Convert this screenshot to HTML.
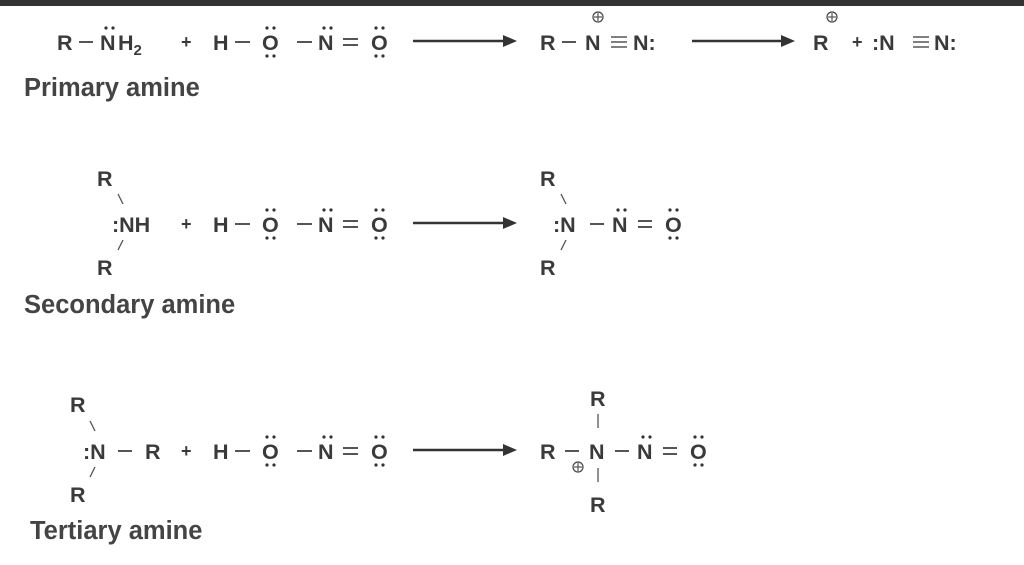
<!DOCTYPE html>
<html><head><meta charset="utf-8"><style>
html,body{margin:0;padding:0;background:#fff;}
svg{display:block;}
text{font-family:"Liberation Sans",Arial,sans-serif;fill:#3a3a3a;font-weight:bold;}
.f{font-size:21.5px;}
.l{font-size:25.5px;fill:#444;}
line{stroke:#555;stroke-width:2;}
circle.d{fill:#333;}
</style></head><body>
<svg width="1024" height="565" viewBox="0 0 1024 565" xmlns="http://www.w3.org/2000/svg">
<defs>
<g id="hono">
  <text class="f" x="213" y="0">H</text>
  <line x1="235" y1="-8" x2="250" y2="-8"/>
  <text class="f" x="262" y="0">O</text>
  <circle class="d" cx="267" cy="-22" r="1.6"/><circle class="d" cx="274" cy="-22" r="1.6"/>
  <circle class="d" cx="267" cy="6" r="1.6"/><circle class="d" cx="274" cy="6" r="1.6"/>
  <line x1="297" y1="-8" x2="312" y2="-8"/>
  <text class="f" x="318" y="0">N</text>
  <circle class="d" cx="324" cy="-22" r="1.6"/><circle class="d" cx="331" cy="-22" r="1.6"/>
  <line x1="343" y1="-11" x2="358" y2="-11"/><line x1="343" y1="-5" x2="358" y2="-5"/>
  <text class="f" x="371" y="0">O</text>
  <circle class="d" cx="376" cy="-22" r="1.6"/><circle class="d" cx="383" cy="-22" r="1.6"/>
  <circle class="d" cx="376" cy="6" r="1.6"/><circle class="d" cx="383" cy="6" r="1.6"/>
  <text class="f" x="181" y="-2" style="font-size:18px">+</text>
</g>
<g id="arrow">
  <line x1="413" y1="-9" x2="505" y2="-9" style="stroke-width:2.4;stroke:#333"/>
  <polygon points="503,-15 517,-9 503,-3" fill="#333"/>
</g>
</defs>
<rect x="0" y="0" width="1024" height="6" fill="#333"/>

<!-- Row 1 -->
<g transform="translate(0,50)">
  <text class="f" x="57" y="0">R</text>
  <line x1="79" y1="-8" x2="93" y2="-8"/>
  <text class="f" x="100" y="0">N</text>
  <circle class="d" cx="106" cy="-22" r="1.6"/><circle class="d" cx="113" cy="-22" r="1.6"/>
  <text class="f" x="118" y="0">H<tspan style="font-size:15px" dy="5">2</tspan></text>
  <use href="#hono"/>
  <use href="#arrow"/>
  <text class="f" x="540" y="0">R</text>
  <line x1="562" y1="-8" x2="576" y2="-8"/>
  <text class="f" x="585" y="0">N</text>
  <circle cx="598" cy="-33" r="5" fill="none" stroke="#444" stroke-width="1.2"/>
  <line x1="594" y1="-33" x2="602" y2="-33" style="stroke-width:1.2"/><line x1="598" y1="-37" x2="598" y2="-29" style="stroke-width:1.2"/>
  <line x1="611" y1="-13" x2="627" y2="-13" style="stroke-width:1.5"/><line x1="611" y1="-8" x2="627" y2="-8" style="stroke-width:1.5"/><line x1="611" y1="-3" x2="627" y2="-3" style="stroke-width:1.5"/>
  <text class="f" x="633" y="0">N:</text>
  <line x1="692" y1="-9" x2="783" y2="-9" style="stroke-width:2.4;stroke:#333"/>
  <polygon points="781,-15 795,-9 781,-3" fill="#333"/>
  <text class="f" x="813" y="0">R</text>
  <circle cx="832" cy="-33" r="5" fill="none" stroke="#444" stroke-width="1.2"/>
  <line x1="828" y1="-33" x2="836" y2="-33" style="stroke-width:1.2"/><line x1="832" y1="-37" x2="832" y2="-29" style="stroke-width:1.2"/>
  <text class="f" x="852" y="-2" style="font-size:18px">+</text>
  <text class="f" x="872" y="0">:N</text>
  <line x1="913" y1="-13" x2="929" y2="-13" style="stroke-width:1.5"/><line x1="913" y1="-8" x2="929" y2="-8" style="stroke-width:1.5"/><line x1="913" y1="-3" x2="929" y2="-3" style="stroke-width:1.5"/>
  <text class="f" x="934" y="0">N:</text>
</g>
<text class="l" x="24" y="96">Primary amine</text>

<!-- Row 2 -->
<g transform="translate(0,232)">
  <text class="f" x="97" y="-46">R</text>
  <line x1="118" y1="-38" x2="123" y2="-28" style="stroke-width:1.3"/>
  <text class="f" x="112" y="0">:NH</text>
  <line x1="123" y1="8" x2="118" y2="18" style="stroke-width:1.3"/>
  <text class="f" x="97" y="43">R</text>
  <use href="#hono"/>
  <use href="#arrow"/>
  <text class="f" x="540" y="-46">R</text>
  <line x1="561" y1="-38" x2="566" y2="-28" style="stroke-width:1.3"/>
  <text class="f" x="553" y="0">:N</text>
  <line x1="566" y1="8" x2="561" y2="18" style="stroke-width:1.3"/>
  <text class="f" x="540" y="43">R</text>
  <line x1="590" y1="-8" x2="604" y2="-8"/>
  <text class="f" x="612" y="0">N</text>
  <circle class="d" cx="618" cy="-22" r="1.6"/><circle class="d" cx="625" cy="-22" r="1.6"/>
  <line x1="638" y1="-11" x2="652" y2="-11"/><line x1="638" y1="-5" x2="652" y2="-5"/>
  <text class="f" x="665" y="0">O</text>
  <circle class="d" cx="670" cy="-22" r="1.6"/><circle class="d" cx="677" cy="-22" r="1.6"/>
  <circle class="d" cx="670" cy="6" r="1.6"/><circle class="d" cx="677" cy="6" r="1.6"/>
</g>
<text class="l" x="24" y="313">Secondary amine</text>

<!-- Row 3 -->
<g transform="translate(0,459)">
  <text class="f" x="70" y="-47">R</text>
  <line x1="90" y1="-38" x2="95" y2="-28" style="stroke-width:1.3"/>
  <text class="f" x="83" y="0">:N</text>
  <line x1="95" y1="8" x2="90" y2="18" style="stroke-width:1.3"/>
  <text class="f" x="70" y="43">R</text>
  <line x1="118" y1="-8" x2="132" y2="-8"/>
  <text class="f" x="145" y="0">R</text>
  <use href="#hono"/>
  <use href="#arrow"/>
  <text class="f" x="540" y="0">R</text>
  <line x1="565" y1="-8" x2="579" y2="-8"/>
  <text class="f" x="589" y="0">N</text>
  <text class="f" x="590" y="-53">R</text>
  <line x1="598" y1="-45" x2="598" y2="-31" style="stroke-width:1.3"/>
  <circle cx="578" cy="8" r="5" fill="none" stroke="#444" stroke-width="1.2"/>
  <line x1="574" y1="8" x2="582" y2="8" style="stroke-width:1.2"/><line x1="578" y1="4" x2="578" y2="12" style="stroke-width:1.2"/>
  <line x1="598" y1="9" x2="598" y2="23" style="stroke-width:1.3"/>
  <text class="f" x="590" y="53">R</text>
  <line x1="615" y1="-8" x2="629" y2="-8"/>
  <text class="f" x="637" y="0">N</text>
  <circle class="d" cx="643" cy="-22" r="1.6"/><circle class="d" cx="650" cy="-22" r="1.6"/>
  <line x1="663" y1="-11" x2="677" y2="-11"/><line x1="663" y1="-5" x2="677" y2="-5"/>
  <text class="f" x="690" y="0">O</text>
  <circle class="d" cx="695" cy="-22" r="1.6"/><circle class="d" cx="702" cy="-22" r="1.6"/>
  <circle class="d" cx="695" cy="6" r="1.6"/><circle class="d" cx="702" cy="6" r="1.6"/>
</g>
<text class="l" x="30" y="539">Tertiary amine</text>
</svg>
</body></html>
